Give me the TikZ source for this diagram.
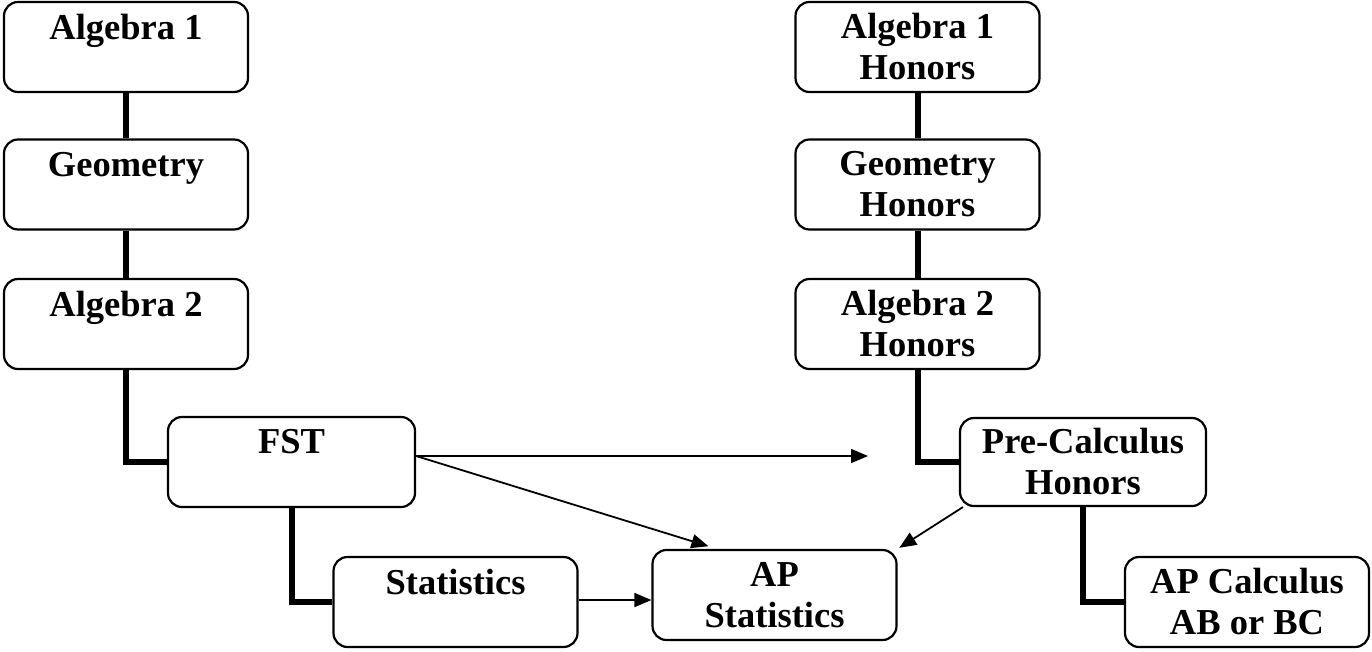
\documentclass[tikz,border=0pt]{standalone}
\usepackage{fontspec}
\setmainfont{Liberation Serif}
\usetikzlibrary{arrows.meta}
\begin{document}
\begin{tikzpicture}[x=1pt,y=-1pt,
  course/.style={draw,line width=2.2pt,rounded corners=14pt,align=center,
    minimum width=244pt,minimum height=90pt,inner sep=0pt,
    font=\fontsize{36.5}{41}\selectfont\bfseries},
  link/.style={line width=6pt},
  arr/.style={line width=1.8pt,-{Triangle[length=17pt,width=14pt]}}]
\useasboundingbox (0,0) rectangle (1372,651);
\node[course] (a1) at (126,47) {Algebra 1\\\mbox{}};
\node[course] (geo) at (126,184.5) {Geometry\\\mbox{}};
\node[course] (a2) at (126,324) {Algebra 2\\\mbox{}};
\node[course,minimum width=247pt] (fst) at (291.5,462) {FST\\\mbox{}};
\node[course] (stat) at (455.5,602) {Statistics\\\mbox{}};
\node[course] (aps) at (774.5,595) {AP\\Statistics};
\node[course] (a1h) at (917.5,47) {Algebra 1\\Honors};
\node[course] (gh) at (917.5,184.5) {Geometry\\Honors};
\node[course] (a2h) at (917.5,324) {Algebra 2\\Honors};
\node[course,minimum width=246pt,minimum height=88pt] (pch) at (1083,462) {Pre-Calculus\\Honors};
\node[course] (apc) at (1247,602) {AP Calculus\\AB or BC};
\coordinate (free) at (868,456);
\draw[link] (a1.south) -- (geo.north);
\draw[link] (geo.south) -- (a2.north);
\draw[link] (a2.south) |- (fst.west);
\draw[link] (fst.south) |- (stat.west);
\draw[link] (a1h.south) -- (gh.north);
\draw[link] (gh.south) -- (a2h.north);
\draw[link] (a2h.south) |- (pch.west);
\draw[link] (pch.south) |- (apc.west);
\draw[arr] (fst.east |- free) -- (free);
\draw[arr,shorten >=9pt] (fst.east |- free) -- (aps.north -| 717,0);
\draw[arr,shorten >=2pt] ([xshift=4pt]pch.south west) -- (aps.north east);
\draw[arr] (stat.east |- 0,600) -- (aps.west |- 0,600);
\end{tikzpicture}
\end{document}
